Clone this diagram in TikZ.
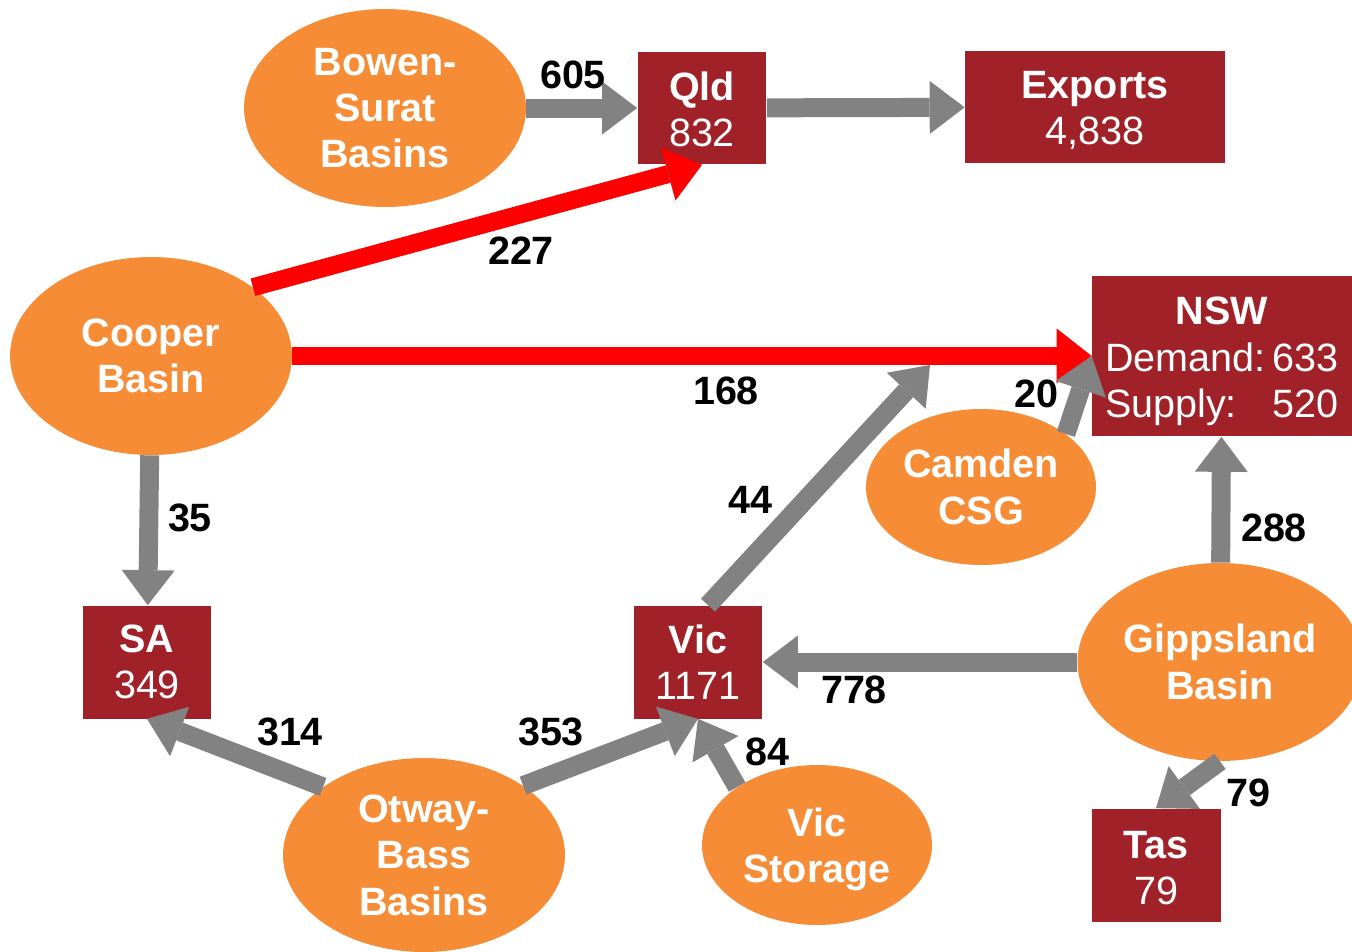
\documentclass[tikz,border=0pt]{standalone}
\usepackage{fontspec}
\setmainfont{Liberation Sans}
\usetikzlibrary{shapes.geometric,arrows.meta}
\definecolor{basinorange}{HTML}{F68C36}
\definecolor{statered}{HTML}{A02128}
\definecolor{flowgray}{HTML}{828282}
\newcommand{\mapfont}{\fontsize{22.5}{26.4}\selectfont}
\newcommand{\lowered}[2]{\raisebox{-#1}[\height][\depth]{\begin{tabular}{@{}c@{}}#2\end{tabular}}}
\tikzset{
    basin/.style={ellipse, fill=basinorange, text=white, font=\mapfont\bfseries, align=center,
        inner sep=0pt, minimum width=5.64cm, minimum height=3.96cm},
    state/.style={rectangle, fill=statered, text=white, font=\mapfont, align=center,
        inner sep=0pt, minimum width=2.58cm, minimum height=2.26cm},
    flow/.style={draw=flowgray, line width=0.38cm, -{Triangle[length=0.7cm,width=1.06cm,line width=0pt]}},
    pipe/.style={draw=red, line width=0.36cm, -{Triangle[length=0.7cm,width=1.1cm,line width=0pt]}},
    qty/.style={font=\mapfont\bfseries, inner sep=0pt}
}
\begin{document}
\begin{tikzpicture}[x=0.02cm, y=-0.02cm]
    \useasboundingbox (0,0) rectangle (1352,951);
    \node[basin] (bowen) at (385,108) {Bowen-\\Surat\\Basins};
    \node[state] (qld) at (702,108) {\lowered{0.12cm}{\textbf{Qld}\\832}};
    \node[state, minimum width=5.2cm] (exports) at (1095,107) {\lowered{0.11cm}{\textbf{Exports}\\4,838}};
    \node[basin] (cooper) at (151,356) {Cooper\\Basin};
    \node[state, minimum width=5.2cm, minimum height=3.22cm] (nsw) at (1222,356)
        {\lowered{0.12cm}{\textbf{NSW}\\\begin{tabular}[t]{@{}l@{\hspace{0.15cm}}r@{}}Demand:&633\\Supply:&520\end{tabular}}};
    \node[basin, minimum width=4.6cm, minimum height=3.12cm] (camden) at (981,487) {Camden\\CSG};
    \node[state] (sa) at (147,662) {\textbf{SA}\\349};
    \node[state] (vic) at (698,662) {\textbf{Vic}\\1171};
    \node[basin, minimum width=5.7cm] (gipps) at (1220,662) {Gippsland\\Basin};
    \node[state] (tas) at (1156,865) {\lowered{0.14cm}{\textbf{Tas}\\79}};
    \node[basin, minimum height=3.88cm] (otway) at (424,855) {Otway-\\Bass\\Basins};
    \node[basin, minimum width=4.6cm, minimum height=3.2cm] (vstore) at (817,845) {\lowered{0.1cm}{Vic\\Storage}};
    \coordinate (vicnsw) at (930,365);

    \draw[pipe] (cooper.34) -- (qld.south);
    \draw[pipe] (cooper) -- (nsw.west);
    \draw[flow] (bowen) -- (qld);
    \draw[flow] (qld) -- (exports);
    \draw[flow] (cooper) -- (sa);
    \draw[flow] (vic.80) -- (vicnsw);
    \draw[flow] (camden.32) -- (nsw.west);
    \draw[flow] (gipps) -- (nsw);
    \draw[flow] (gipps) -- (vic);
    \draw[flow] (gipps.south) -- (tas.north);
    \draw[flow] (otway.146) -- (sa.south);
    \draw[flow] (otway.35) -- (vic.south);
    \draw[flow] (vstore.144) -- (vic.south);

    \node[qty] (q605) at (573,75) {605};
    \node[qty] (q227) at (521,251) {227};
    \node[qty] (q168) at (726,391) {168};
    \node[qty] (q20) at (1036,394) {20};
    \node[qty] (q35) at (190,518) {35};
    \node[qty] (q44) at (750,500) {44};
    \node[qty] (q288) at (1274,528) {288};
    \node[qty] (q314) at (290,732) {314};
    \node[qty] (q353) at (551,732) {353};
    \node[qty] (q778) at (854,690) {778};
    \node[qty] (q84) at (767,752) {84};
    \node[qty] (q79) at (1248,793) {79};
\end{tikzpicture}
\end{document}
